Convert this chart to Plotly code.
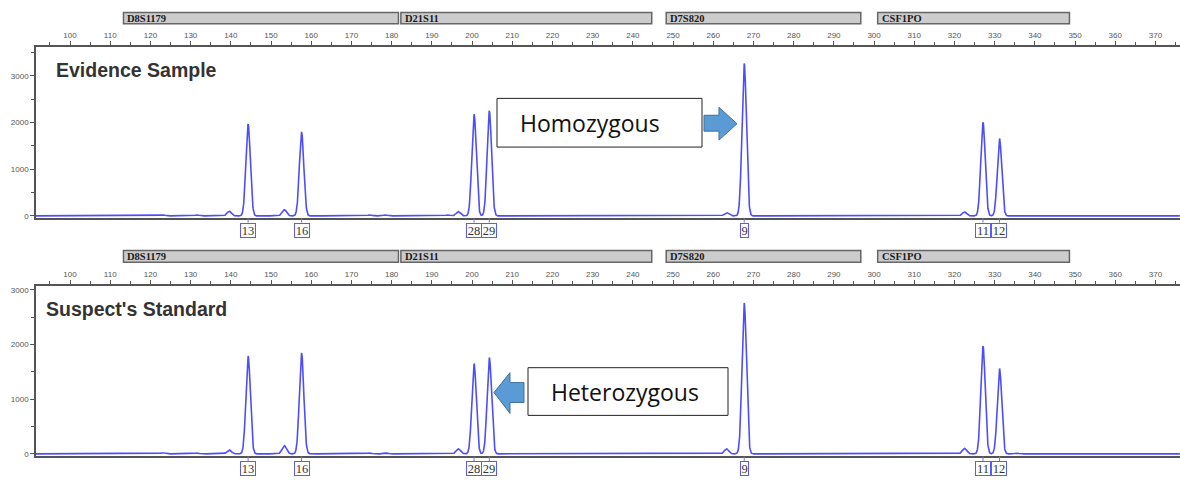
import numpy as np
import plotly.graph_objects as go

W, H = 1180, 480

# ---------------- data ----------------
LOCI = ["D8S1179", "D21S11", "D7S820", "CSF1PO"]
LOCUS_START = [113.3, 182.3, 248.3, 300.9]
LOCUS_END = [181.7, 244.7, 296.7, 348.6]

ALLELES = ["13", "16", "28", "29", "9", "11", "12"]
ALLELE_SIZE = [144.3, 157.6, 200.5, 204.3, 267.7, 327.1, 331.2]
EVIDENCE_HEIGHT = [1964, 1787, 2177, 2247, 3262, 1999, 1660]
SUSPECT_HEIGHT = [1789, 1836, 1649, 1758, 2758, 1971, 1564]

EVIDENCE_MINOR_SIZE = [123.1, 131.6, 139.6, 153.3, 174.6, 178.4, 189.6, 194.0, 196.6,
                       227.5, 232.0, 236.0, 241.0, 246.0, 251.0, 263.3, 322.5, 335.0]
EVIDENCE_MINOR_HEIGHT = [20, 20, 100, 134, 20, 20, 15, 20, 90,
                         12, 12, 12, 10, 10, 10, 70, 85, 12]
SUSPECT_MINOR_SIZE = [123.1, 131.6, 139.6, 153.3, 174.6, 178.7, 190.0, 196.6, 208.5,
                      232.3, 240.5, 263.3, 276.2, 315.6, 322.5, 335.5]
SUSPECT_MINOR_HEIGHT = [20, 15, 73, 150, 15, 15, 10, 90, 10,
                        12, 12, 90, 12, 12, 100, 12]

X_TICKS = list(range(100, 371, 10))
Y_TICKS = [0, 1000, 2000, 3000]
PANEL_TITLES = ["Evidence Sample", "Suspect's Standard"]
CALLOUTS = ["Homozygous", "Heterozygous"]

# ---------------- helpers ----------------
def px(x):
    return x / W

def py(y):
    return 1 - y / H

XR = [91.54, 376.1]
grid = np.arange(XR[0], XR[1], 0.04)

def profile(sizes, heights, sig=0.55):
    y = np.zeros_like(grid)
    for s, h in zip(sizes, heights):
        y += h * np.exp(-0.5 * ((grid - s) / sig) ** 2)
    return y

ev = profile(ALLELE_SIZE + EVIDENCE_MINOR_SIZE, EVIDENCE_HEIGHT + EVIDENCE_MINOR_HEIGHT)
su = profile(ALLELE_SIZE + SUSPECT_MINOR_SIZE, SUSPECT_HEIGHT + SUSPECT_MINOR_HEIGHT)

LINE_COL = "#4d4dff"
AX_COL = "#555555"

fig = go.Figure()
fig.add_trace(go.Scatter(x=grid, y=ev, mode="lines", line=dict(color=LINE_COL, width=1.6),
                         xaxis="x", yaxis="y", hoverinfo="skip"))
fig.add_trace(go.Scatter(x=grid, y=su, mode="lines", line=dict(color=LINE_COL, width=1.6),
                         xaxis="x2", yaxis="y2", hoverinfo="skip"))

xcommon = dict(range=XR, side="top", showline=True, linecolor=AX_COL, linewidth=1.5,
               mirror=True, ticks="outside", ticklen=4, tickcolor=AX_COL,
               tickvals=X_TICKS, ticktext=[str(v) for v in X_TICKS],
               minor=dict(dtick=5, tick0=0, ticks="outside", ticklen=3, tickcolor=AX_COL),
               tickfont=dict(family="Liberation Sans", size=8, color=AX_COL),
               showgrid=False, zeroline=False, domain=[36 / W, 1], fixedrange=True)
ycommon = dict(showline=True, linecolor=AX_COL, linewidth=1.5, ticks="outside", ticklen=4,
               tickcolor=AX_COL, tickvals=Y_TICKS, ticktext=[str(v) for v in Y_TICKS],
               minor=dict(dtick=500, tick0=0, ticks="outside", ticklen=3, tickcolor=AX_COL),
               tickfont=dict(family="Liberation Sans", size=8, color=AX_COL),
               showgrid=False, zeroline=False, fixedrange=True)

fig.update_layout(
    width=W, height=H, margin=dict(l=0, r=0, t=0, b=0),
    paper_bgcolor="white", plot_bgcolor="white", showlegend=False,
    xaxis=dict(xcommon, anchor="y"),
    yaxis=dict(ycommon, anchor="x", domain=[py(219.3), py(47)], range=[-43, 3623]),
    xaxis2=dict(xcommon, anchor="y2"),
    yaxis2=dict(ycommon, anchor="x2", domain=[py(459.3), py(287.7)], range=[-47, 3073]),
)

shapes = []
annotations = []

# locus header bars
for xref, y0, y1 in [("x", 24, 12.7), ("x2", 264, 252)]:
    for name, s, e in zip(LOCI, LOCUS_START, LOCUS_END):
        shapes.append(dict(type="rect", xref=xref, yref="paper", x0=s, x1=e,
                           y0=py(y0), y1=py(y1), fillcolor="#cccccc",
                           line=dict(color="#666666", width=1.5), layer="above"))
        annotations.append(dict(text="<b>%s</b>" % name, xref=xref, yref="paper", x=s,
                                y=py((y0 + y1) / 2), xanchor="left", yanchor="middle",
                                xshift=2, showarrow=False,
                                font=dict(family="Liberation Serif", size=10.5, color="#1a1a1a")))

# allele labels
for xref, axis_y, top in [("x", 219.3, 224), ("x2", 459.3, 464)]:
    for a, s in zip(ALLELES, ALLELE_SIZE):
        shapes.append(dict(type="line", xref=xref, yref="paper", x0=s, x1=s,
                           y0=py(axis_y), y1=py(top), line=dict(color="#7777cc", width=1)))
        annotations.append(dict(text=a, xref=xref, yref="paper", x=s, y=py(top),
                                xanchor="center", yanchor="top", showarrow=False,
                                width=7 if len(a) == 1 else 14, height=13, borderpad=0,
                                bordercolor="#5a5aff", borderwidth=1, bgcolor="white",
                                font=dict(family="Liberation Serif", size=12.5, color="#333333")))

# panel titles
annotations.append(dict(text="<b>%s</b>" % PANEL_TITLES[0], xref="paper", yref="paper",
                        x=px(54), y=py(70), xanchor="left", yanchor="middle", showarrow=False,
                        font=dict(family="Liberation Sans", size=19.5, color="#333333")))
annotations.append(dict(text="<b>%s</b>" % PANEL_TITLES[1], xref="paper", yref="paper",
                        x=px(44), y=py(311), xanchor="left", yanchor="middle", showarrow=False,
                        font=dict(family="Liberation Sans", size=19.5, color="#333333")))

# callout boxes
for (x0, y0, x1, y1, tx, ty), text in zip([(497, 99, 702, 148, 590, 124),
                                           (528, 370, 728, 418, 625, 394)], CALLOUTS):
    shapes.append(dict(type="rect", xref="paper", yref="paper", x0=px(x0), x1=px(x1),
                       y0=py(y1), y1=py(y0), fillcolor="white",
                       line=dict(color="#222222", width=1), layer="above"))
    annotations.append(dict(text=text, xref="paper", yref="paper", x=px(tx), y=py(ty),
                            xanchor="center", yanchor="middle", showarrow=False,
                            font=dict(family="Open Sans", size=23, color="#111111")))

def poly(points):
    return "M " + " L ".join("%.5f,%.5f" % (px(a), py(b)) for a, b in points) + " Z"

right_arrow = [(704, 116), (719, 116), (719, 108), (737, 124.5), (719, 141), (719, 132), (704, 132)]
left_arrow = [(524, 385), (510, 385), (510, 375), (494, 395), (510, 416), (510, 405), (524, 405)]
for pts in (right_arrow, left_arrow):
    shapes.append(dict(type="path", xref="paper", yref="paper", path=poly(pts),
                       fillcolor="#5b9bd5", line=dict(color="#41719c", width=1), layer="above"))

fig.update_layout(shapes=shapes, annotations=annotations)
fig.write_html("out.html")
